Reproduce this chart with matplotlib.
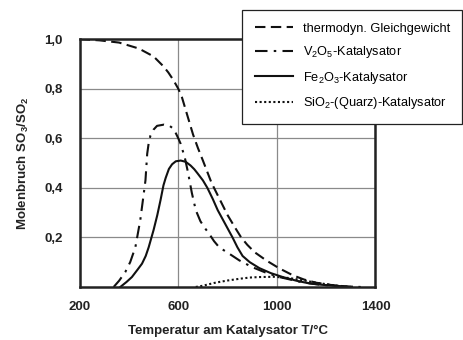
import matplotlib
matplotlib.use('Agg')
import matplotlib.pyplot as plt

plt.rcParams['font.family'] = ['Liberation Sans', 'DejaVu Sans']
plt.rcParams['mathtext.default'] = 'regular'

t_gg = [200, 280, 360, 440, 500, 540, 560, 580, 600, 615, 630, 645, 660,
        680, 700, 735, 750, 775, 800, 830, 855, 880, 910, 957, 1010, 1065,
        1110, 1160, 1220, 1280, 1340]
y_gg = [1.0, 0.995, 0.986, 0.962, 0.93, 0.89, 0.865, 0.835, 0.80, 0.765,
        0.715, 0.665, 0.615, 0.56, 0.51, 0.42, 0.39, 0.34, 0.29, 0.24, 0.20,
        0.17, 0.14, 0.107, 0.075, 0.047, 0.03, 0.017, 0.008, 0.002, 0.0]

t_v2o5 = [338, 360, 385, 405, 426, 446, 460, 467, 474, 480, 487, 500, 514,
          542, 565, 582, 600, 610, 627, 640, 655, 671, 690, 710, 725, 745,
          766, 807, 848, 900, 957, 1010, 1093, 1160, 1230, 1300]
y_v2o5 = [0.0, 0.025, 0.06, 0.10, 0.16, 0.27, 0.376, 0.43, 0.537, 0.58, 0.61,
          0.635, 0.65, 0.655, 0.65, 0.637, 0.60, 0.577, 0.52, 0.46, 0.38,
          0.31, 0.265, 0.235, 0.215, 0.185, 0.16, 0.134, 0.107, 0.08, 0.057,
          0.04, 0.021, 0.011, 0.004, 0.0]

t_fe2o3 = [365, 390, 412, 435, 453, 468, 480, 500, 515, 528, 540, 549, 562,
           575, 590, 610, 630, 650, 665, 677, 700, 718, 740, 760, 790, 820,
           840, 861, 890, 929, 975, 1024, 1080, 1133, 1180, 1228, 1300]
y_fe2o3 = [0.0, 0.02, 0.04, 0.07, 0.094, 0.125, 0.16, 0.23, 0.29, 0.35, 0.41,
           0.44, 0.476, 0.495, 0.507, 0.51, 0.505, 0.49, 0.475, 0.46, 0.43,
           0.40, 0.355, 0.31, 0.255, 0.20, 0.16, 0.125, 0.10, 0.076, 0.056,
           0.04, 0.025, 0.014, 0.009, 0.005, 0.0]

t_sio2 = [671, 700, 720, 745, 766, 800, 848, 890, 930, 990, 1050, 1100, 1160,
          1230, 1280, 1300]
y_sio2 = [0.0, 0.005, 0.01, 0.016, 0.02, 0.026, 0.033, 0.038, 0.04, 0.041,
          0.036, 0.028, 0.017, 0.007, 0.002, 0.0]

x_ticks = [200, 600, 1000, 1400]
y_ticks = [0.2, 0.4, 0.6, 0.8, 1.0]
y_ticklabels = ['0,2', '0,4', '0,6', '0,8', '1,0']

fig = plt.figure(figsize=(4.63, 3.40), dpi=100)
ax = fig.add_axes([0.172, 0.156, 0.639, 0.729])

style = dict(color='#111111', lw=1.5, solid_joinstyle='round',
             dash_joinstyle='round')
ax.plot(t_gg, y_gg, dashes=(5, 2.6), label='thermodyn. Gleichgewicht', **style)
ax.plot(t_v2o5, y_v2o5, dashes=(6, 3, 1.2, 3),
        label='V$_2$O$_5$-Katalysator', **style)
ax.plot(t_fe2o3, y_fe2o3, label='Fe$_2$O$_3$-Katalysator', **style)
ax.plot(t_sio2, y_sio2, dashes=(1, 1.2),
        label='SiO$_2$-(Quarz)-Katalysator', **style)

ax.set_xlim(200, 1400)
ax.set_ylim(0, 1.0)
ax.set_xticks(x_ticks)
ax.set_xticklabels([str(v) for v in x_ticks], fontsize=9.5, fontweight='bold',
                   color='#222222')
ax.set_yticks(y_ticks)
ax.set_yticklabels(y_ticklabels, fontsize=9.5, fontweight='bold',
                   color='#222222')
ax.tick_params(length=0)
ax.tick_params(axis='x', pad=10)
ax.tick_params(axis='y', pad=12)

ax.grid(True, color='#8a8a8a', lw=0.9)
ax.set_axisbelow(True)
for s in ax.spines.values():
    s.set_linewidth(1.8)
    s.set_color('#222222')

ax.set_xlabel('Temperatur am Katalysator T/°C', fontsize=9.5,
              fontweight='bold', color='#222222', labelpad=9)
ax.set_ylabel('Molenbruch SO$_3$/SO$_2$', fontsize=9.5, fontweight='bold',
              color='#222222', labelpad=10)

# Legende oben rechts, ragt ueber den Plotbereich hinaus
leg = fig.legend(loc='upper left', bbox_to_anchor=(0.523, 0.5, 0.475, 0.471),
                 mode='expand', borderaxespad=0,
                 fontsize=9.2, handlelength=3.0, handletextpad=0.8,
                 labelspacing=0.75, borderpad=1.0, fancybox=False,
                 framealpha=1, edgecolor='#222222')
leg.get_frame().set_linewidth(0.9)

fig.savefig('out.png', dpi=100)
